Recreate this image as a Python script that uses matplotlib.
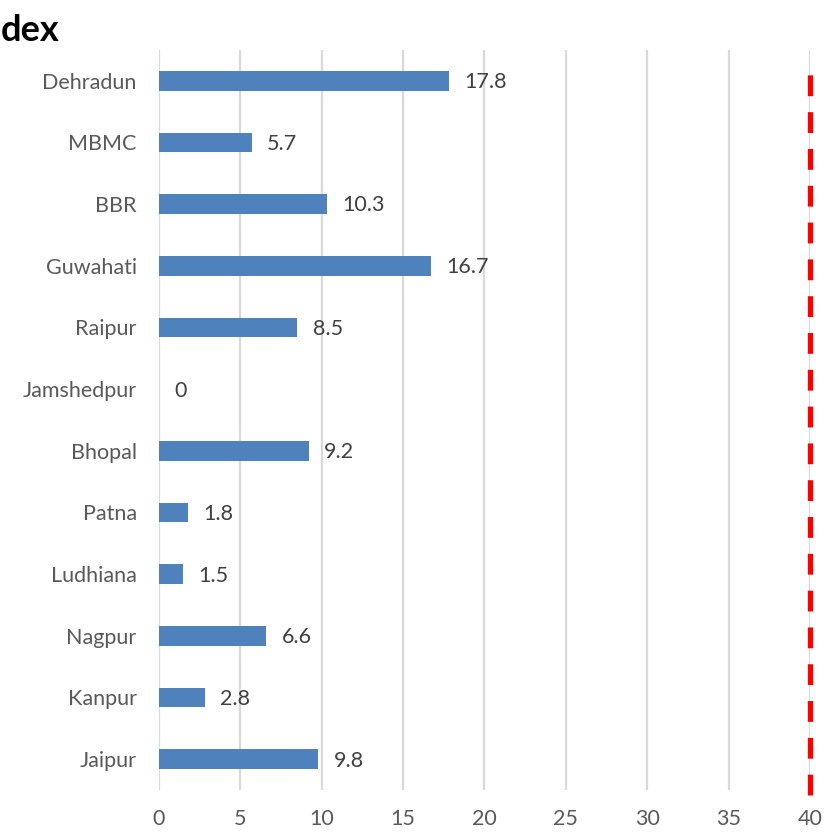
import matplotlib
matplotlib.use('Agg')
import matplotlib.pyplot as plt

# city scores, top of the chart first
cities = ['Dehradun', 'MBMC', 'BBR', 'Guwahati', 'Raipur', 'Jamshedpur',
          'Bhopal', 'Patna', 'Ludhiana', 'Nagpur', 'Kanpur', 'Jaipur']
scores = [17.8, 5.7, 10.3, 16.7, 8.5, 0, 9.2, 1.8, 1.5, 6.6, 2.8, 9.8]
x_ticks = [0, 5, 10, 15, 20, 25, 30, 35, 40]
target = 40

plt.rcParams['font.family'] = ['Lato', 'DejaVu Sans']
plt.rcParams['lines.scale_dashes'] = False

fig = plt.figure(figsize=(8.34, 8.32), dpi=100)
ax = fig.add_axes([0.1906, 0.0505, 0.7806, 0.8895])

# bottom-up positions so Jaipur sits at the bottom
ypos = list(range(len(cities)))[::-1]
bars = ax.barh(ypos, scores, height=0.32, color='#4f81bd', zorder=3)

for y, v in zip(ypos, scores):
    ax.annotate(f'{v:g}', (v, y), xytext=(11, -1), textcoords='offset points',
                va='center', ha='left', fontsize=15.5, color='#404040')

ax.set_xlim(0, 40)
ax.set_ylim(-0.5, len(cities) - 0.5)
ax.set_xticks(x_ticks)
ax.set_yticks(ypos)
ax.set_yticklabels(cities)
ax.tick_params(axis='both', length=0, labelsize=15.5, labelcolor='#595959')
ax.tick_params(axis='x', pad=14)
ax.tick_params(axis='y', pad=16)
ax.grid(axis='x', color='#d9d9d9', linewidth=1.6, zorder=0)
for s in ax.spines.values():
    s.set_visible(False)

# red dashed target line
ln = ax.axvline(target, ymin=-0.007, ymax=0.985, color='#ff0000', linewidth=3.8,
                zorder=4, clip_on=False)
ln.set_dashes((15, 11.5))

fig.text(0.001, 0.963, 'dex', fontsize=26, fontweight='bold', va='center', ha='left')

fig.savefig('out.png', dpi=100)
